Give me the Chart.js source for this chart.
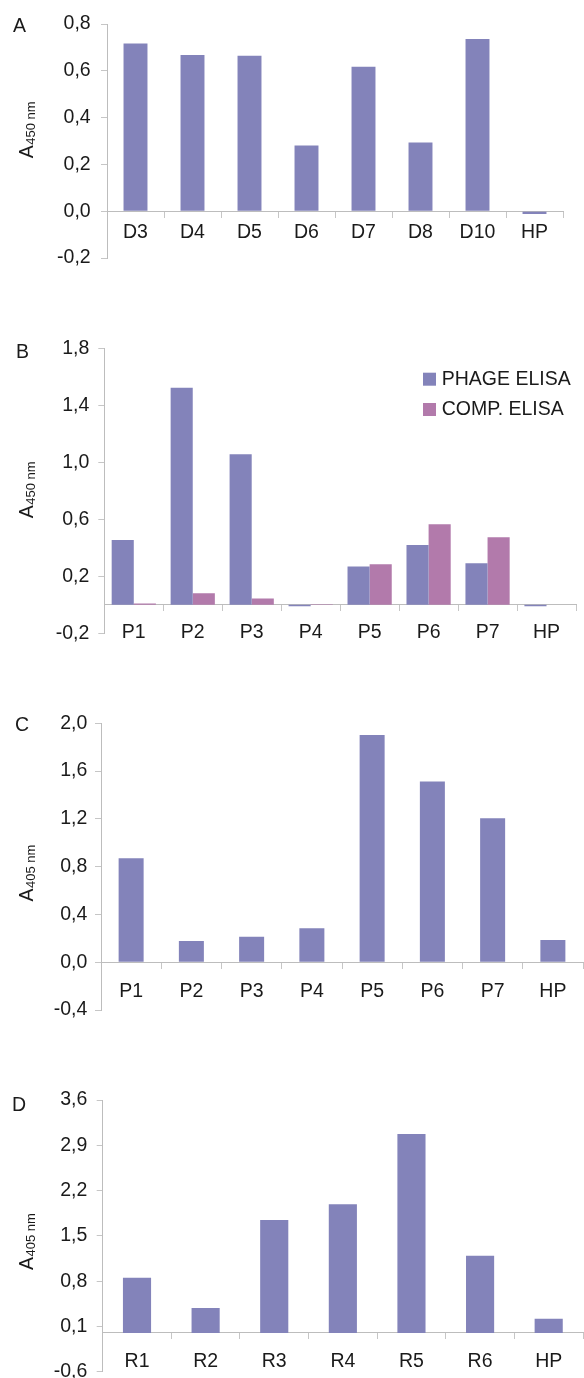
<!DOCTYPE html>
<html><head><meta charset="utf-8">
<script src="https://cdn.jsdelivr.net/npm/chart.js@4/dist/chart.umd.min.js"></script>
<style>
html,body{margin:0;padding:0;background:#fff;overflow:hidden;width:584px;height:1378px;}
.p{position:absolute;left:0;width:584px;}
</style></head><body>
<div class="p" style="top:0;height:280px"><canvas id="cA"></canvas></div>
<div class="p" style="top:290px;height:365px"><canvas id="cB"></canvas></div>
<div class="p" style="top:670px;height:360px"><canvas id="cC"></canvas></div>
<div class="p" style="top:1050px;height:345px"><canvas id="cD"></canvas></div>
<script>
// ---- data ----
const catsA = ['D3','D4','D5','D6','D7','D8','D10','HP'];
const valsA = [0.717, 0.667, 0.664, 0.281, 0.617, 0.294, 0.736, -0.012];
const ticksA = [-0.2, 0.0, 0.2, 0.4, 0.6, 0.8];

const catsB = ['P1','P2','P3','P4','P5','P6','P7','HP'];
const phageB = [0.455, 1.524, 1.056, -0.010, 0.268, 0.420, 0.291, -0.010];
const compB  = [0.010, 0.081, 0.045, 0.003, 0.284, 0.565, 0.474, 0.000];
const seriesNamesB = ['PHAGE ELISA', 'COMP. ELISA'];
const ticksB = [-0.2, 0.2, 0.6, 1.0, 1.4, 1.8];

const catsC = ['P1','P2','P3','P4','P5','P6','P7','HP'];
const valsC = [0.870, 0.178, 0.214, 0.284, 1.903, 1.512, 1.205, 0.186];
const ticksC = [-0.4, 0.0, 0.4, 0.8, 1.2, 1.6, 2.0];

const catsD = ['R1','R2','R3','R4','R5','R6','HP'];
const valsD = [0.853, 0.385, 1.745, 1.988, 3.075, 1.193, 0.220];
const ticksD = [-0.6, 0.1, 0.8, 1.5, 2.2, 2.9, 3.6];

// ---- style ----
const BLUE = '#8383BA';
const PINK = '#B27AAB';
const FONT = '"Liberation Sans", Arial, sans-serif';
const TXT = '#1a1a1a';
const AXIS = '#bdbdbd';

const annot = {
  id: 'annot',
  afterDraw(chart, args, o) {
    const ctx = chart.ctx;
    ctx.save();
    ctx.fillStyle = TXT;
    ctx.font = '19.5px ' + FONT;
    ctx.textAlign = 'left';
    ctx.textBaseline = 'alphabetic';
    ctx.fillText(o.letter, o.letterX, o.letterY);
    if (o.legend) {
      const L = o.legend;
      chart.data.datasets.forEach((ds, i) => {
        const y = L.y + i * L.gap;
        ctx.fillStyle = ds.backgroundColor;
        ctx.fillRect(L.x, y, 13, 13);
        ctx.fillStyle = TXT;
        ctx.textBaseline = 'middle';
        ctx.fillText(ds.label, L.x + 18.7, y + 6.8);
      });
    }
    ctx.textBaseline = 'alphabetic';
    ctx.fillStyle = TXT;
    ctx.translate(o.titleX, o.titleY);
    ctx.rotate(-Math.PI / 2);
    ctx.fillText(o.titleMain, 0, 0);
    const w = ctx.measureText(o.titleMain).width;
    ctx.font = '13px ' + FONT;
    ctx.fillText(o.titleSub, w + 0.5, 2.5);
    ctx.restore();
  }
};

function fmt(v) { return v.toFixed(1).replace('.', ',').replace('-0,0', '0,0'); }

function makeChart(id, cfg) {
  const datasets = cfg.series.map((s, i) => ({
    label: s.name,
    data: s.data,
    backgroundColor: s.color,
    borderWidth: 0,
    categoryPercentage: cfg.catPct,
    barPercentage: 1.0
  }));
  return new Chart(document.getElementById(id), {
    type: 'bar',
    data: { labels: cfg.labels, datasets },
    plugins: [annot],
    options: {
      responsive: true,
      maintainAspectRatio: false,
      animation: false,
      devicePixelRatio: 1,
      events: [],
      layout: { padding: { left: 0, right: cfg.padR, top: cfg.padT, bottom: cfg.padB } },
      plugins: {
        legend: { display: false },
        tooltip: { enabled: false },
        annot: cfg.annot
      },
      scales: {
        x: {
          type: 'category',
          position: { y: 0 },
          offset: true,
          grid: { display: true, offset: true, drawOnChartArea: false, drawTicks: true, tickLength: 6, color: '#c6c6c6' },
          border: { display: true, color: AXIS, width: 1 },
          ticks: { autoSkip: false, maxRotation: 0, padding: cfg.xPad, color: TXT, font: { family: FONT, size: 19.5 } }
        },
        y: {
          type: 'linear',
          min: cfg.ticks[0],
          max: cfg.ticks[cfg.ticks.length - 1],
          afterBuildTicks: (s) => { s.ticks = cfg.ticks.map(v => ({ value: v })); },
          afterFit: (s) => { s.width = cfg.axisX; },
          grid: { display: true, drawOnChartArea: false, drawTicks: true, tickLength: 6, color: '#c6c6c6' },
          border: { display: true, color: AXIS, width: 1 },
          ticks: { padding: cfg.yPad, color: TXT, font: { family: FONT, size: 19.5, lineHeight: 1.2 }, callback: (v) => fmt(v) }
        }
      }
    }
  });
}

makeChart('cA', {
  labels: catsA, series: [{ name: 'A', data: valsA, color: BLUE }], ticks: ticksA,
  catPct: 0.42, axisX: 107, padR: 21, padT: 24, padB: 22, xPad: 3.5, yPad: 10.3,
  annot: { letter: 'A', letterX: 13, letterY: 32, titleMain: 'A', titleSub: '450 nm', titleX: 32.5, titleY: 158.3 }
});
makeChart('cB', {
  labels: catsB, series: [{ name: seriesNamesB[0], data: phageB, color: BLUE }, { name: seriesNamesB[1], data: compB, color: PINK }], ticks: ticksB,
  catPct: 0.75, axisX: 104.3, padR: 8, padT: 58.3, padB: 21.7, xPad: 9.7, yPad: 9,
  annot: { letter: 'B', letterX: 16, letterY: 68, titleMain: 'A', titleSub: '450 nm', titleX: 32.5, titleY: 228.3,
           legend: { x: 423, y: 82.7, gap: 30.3 } }
});
makeChart('cC', {
  labels: catsC, series: [{ name: 'C', data: valsC, color: BLUE }], ticks: ticksC,
  catPct: 0.415, axisX: 101, padR: 1, padT: 53.3, padB: 20, xPad: 11.3, yPad: 7.7,
  annot: { letter: 'C', letterX: 15, letterY: 61, titleMain: 'A', titleSub: '405 nm', titleX: 32.5, titleY: 231.5 }
});
makeChart('cD', {
  labels: catsD, series: [{ name: 'D', data: valsD, color: BLUE }], ticks: ticksD,
  catPct: 0.41, axisX: 102.7, padR: 1, padT: 50, padB: 23.3, xPad: 11.1, yPad: 9.4,
  annot: { letter: 'D', letterX: 12, letterY: 61, titleMain: 'A', titleSub: '405 nm', titleX: 32.5, titleY: 220 }
});
</script>
</body></html>
